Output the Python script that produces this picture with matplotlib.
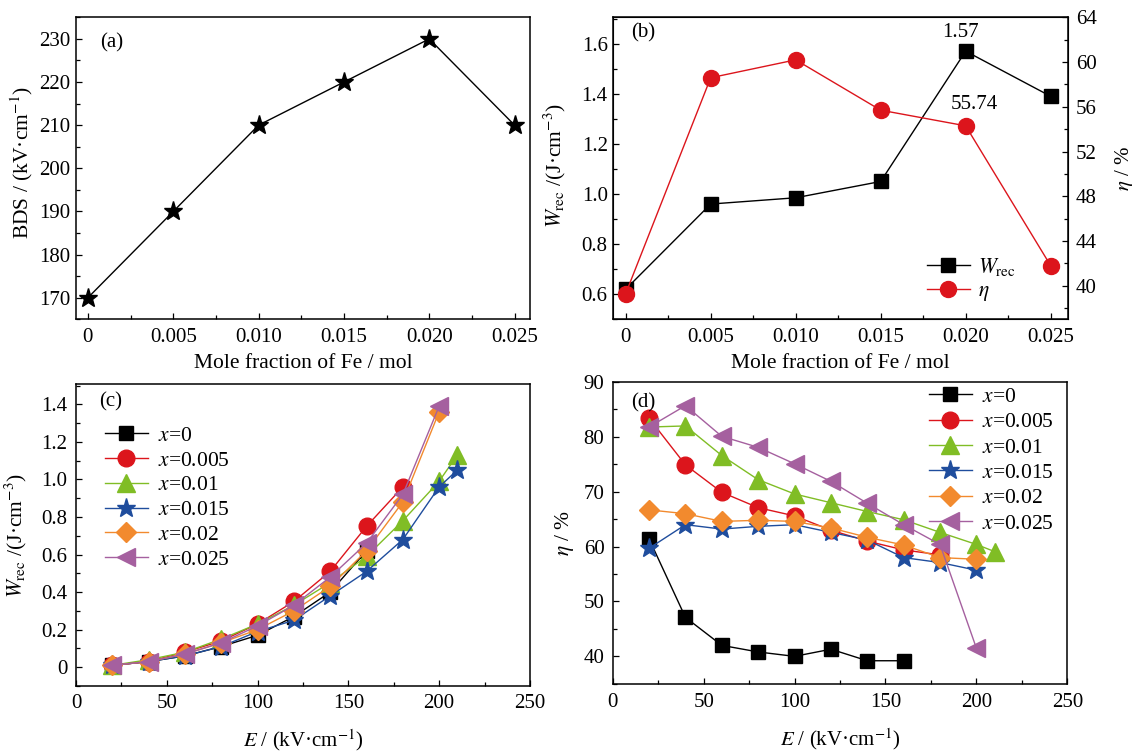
import matplotlib
matplotlib.use("Agg")
import matplotlib.pyplot as plt
from matplotlib.ticker import MultipleLocator, FixedLocator, FixedFormatter, FuncFormatter, FormatStrFormatter

plt.rcParams['font.family'] = ['Liberation Serif', 'DejaVu Serif']
plt.rcParams['mathtext.fontset'] = 'stix'
plt.rcParams['font.size'] = 15

# ---------------- data ----------------
fe = [0, 0.005, 0.010, 0.015, 0.020, 0.025]
fe_labels = ['0', '0.005', '0.010', '0.015', '0.020', '0.025']
bds = [170, 190, 210, 220, 230, 210]
wrec_b = [0.62, 0.96, 0.985, 1.05, 1.57, 1.39]
eta_b = [39.3, 58.6, 60.2, 55.7, 54.3, 41.8]

series_names = ['$x$=0', '$x$=0.005', '$x$=0.01', '$x$=0.015', '$x$=0.02', '$x$=0.025']
E_x0 = [20, 40, 60, 80, 100, 120, 140, 160]
E_x005 = [20, 40, 60, 80, 100, 120, 140, 160, 180]
E_x01 = [20, 40, 60, 80, 100, 120, 140, 160, 180, 200, 210]
E_x015 = [20, 40, 60, 80, 100, 120, 140, 160, 180, 200, 210]
E_x02 = [20, 40, 60, 80, 100, 120, 140, 160, 180, 200]
E_x025 = [20, 40, 60, 80, 100, 120, 140, 160, 180, 200]

W_x0 = [0.01, 0.03, 0.06, 0.11, 0.17, 0.27, 0.40, 0.62]
W_x005 = [0.01, 0.03, 0.08, 0.14, 0.23, 0.35, 0.51, 0.75, 0.96]
W_x01 = [0.01, 0.04, 0.08, 0.15, 0.23, 0.33, 0.45, 0.59, 0.78, 0.99, 1.13]
W_x015 = [0.01, 0.03, 0.06, 0.11, 0.19, 0.25, 0.38, 0.51, 0.68, 0.96, 1.05]
W_x02 = [0.01, 0.03, 0.07, 0.13, 0.20, 0.30, 0.43, 0.62, 0.88, 1.36]
W_x025 = [0.01, 0.03, 0.07, 0.13, 0.22, 0.33, 0.48, 0.66, 0.92, 1.39]

E_x015_eta = [20, 40, 60, 80, 100, 120, 140, 160, 180, 200]
N_x0 = [61.4, 47.1, 42.0, 40.8, 40.0, 41.3, 39.2, 39.2]
N_x005 = [83.4, 74.9, 69.9, 67.1, 65.6, 63.0, 61.0, 59.4, 58.5]
N_x01 = [81.8, 82.0, 76.6, 72.2, 69.6, 68.0, 66.4, 64.9, 62.6, 60.4, 59.1]
N_x015 = [59.7, 64.0, 63.2, 63.7, 64.0, 62.6, 61.2, 58.0, 57.1, 55.7]
N_x02 = [66.7, 66.0, 64.6, 64.8, 64.6, 63.4, 61.7, 60.3, 58.0, 57.7]
N_x025 = [81.8, 85.7, 80.1, 78.1, 75.1, 71.9, 67.9, 64.0, 60.4, 41.5]

colors = ['#000000', '#dc151c', '#80bd25', '#1f4d9d', '#f28a2e', '#a5609f']
markers = ['s', 'o', '^', '*', 'D', '<']
msizes = [10, 12, 13, 14, 10, 12.5]

fig = plt.figure(figsize=(11.37, 7.54), dpi=100)

def style(ax, right=False, ypad=4):
    ax.tick_params(which='both', direction='in', top=False, right=right, labelsize=15)
    ax.tick_params(axis='x', which='major', pad=6)
    ax.tick_params(axis='y', which='major', pad=ypad)
    ax.tick_params(which='major', length=4.5, width=0.9)
    ax.tick_params(which='minor', length=2.8, width=0.9)
    for s in ax.spines.values():
        s.set_linewidth(1.1)

# ---------------- (a) ----------------
ax_a = fig.add_axes([0.0668, 0.5765, 0.3993, 0.4005])
ax_a.plot(fe, bds, color='black', lw=1.0, marker='*', ms=14, mfc='black', mec='black')
ax_a.set_xlim(-0.0007, 0.0259)
ax_a.set_ylim(165, 235)
ax_a.xaxis.set_major_locator(FixedLocator(fe))
ax_a.xaxis.set_major_formatter(FixedFormatter(fe_labels))
ax_a.xaxis.set_minor_locator(MultipleLocator(0.0025))
ax_a.yaxis.set_major_locator(MultipleLocator(10))
ax_a.yaxis.set_minor_locator(MultipleLocator(5))
style(ax_a)
ax_a.set_xlabel('Mole fraction of Fe / mol', fontsize=15.5)
ax_a.set_ylabel('BDS / (kV·cm$^{-1}$)', fontsize=15.5)
ax_a.xaxis.set_label_coords(0.5, -0.115)
ax_a.yaxis.set_label_coords(-0.09, 0.52)
ax_a.text(0.053, 0.915, '(a)', transform=ax_a.transAxes, fontsize=15, va='center')

# ---------------- (b) ----------------
ax_b = fig.add_axes([0.5394, 0.5765, 0.3996, 0.4005])
ax_b2 = ax_b.twinx()
l1, = ax_b.plot(fe, wrec_b, color='black', lw=1.0, marker='s', ms=10, label='$W_{\\rm rec}$')
l2, = ax_b2.plot(fe, eta_b, color='#dc151c', lw=1.0, marker='o', ms=11.5,
                 mfc='#dc151c', mec='#dc151c', label='$\\eta$')
ax_b.set_xlim(-0.00073, 0.026)
ax_b.set_ylim(0.5, 1.705)
ax_b2.set_ylim(37, 64)
ax_b.xaxis.set_major_locator(FixedLocator(fe))
ax_b.xaxis.set_major_formatter(FixedFormatter(fe_labels))
ax_b.xaxis.set_minor_locator(MultipleLocator(0.0025))
ax_b.yaxis.set_major_locator(MultipleLocator(0.2))
ax_b.yaxis.set_minor_locator(MultipleLocator(0.1))
ax_b.yaxis.set_major_formatter(FormatStrFormatter('%.1f'))
ax_b2.yaxis.set_major_locator(MultipleLocator(4))
ax_b2.yaxis.set_minor_locator(MultipleLocator(2))
style(ax_b)
ax_b2.tick_params(which='both', direction='in', labelsize=15, pad=6)
ax_b2.tick_params(which='major', length=4.5, width=0.9)
ax_b2.tick_params(which='minor', length=2.8, width=0.9)
ax_b.set_xlabel('Mole fraction of Fe / mol', fontsize=15.5)
ax_b.set_ylabel('$W_{\\rm rec}$ /(J·cm$^{-3}$)', fontsize=15.5)
ax_b2.set_ylabel('$\\eta$ / %', fontsize=15)
ax_b.xaxis.set_label_coords(0.5, -0.115)
ax_b.yaxis.set_label_coords(-0.10, 0.51)
ax_b2.yaxis.set_label_coords(1.10, 0.5)
ax_b.text(0.039, 0.947, '(b)', transform=ax_b.transAxes, fontsize=15, va='center')
ax_b.text(fe[4] - 0.0003, 1.605, '1.57', ha='center', va='bottom', fontsize=15)
ax_b2.text(fe[4] + 0.0005, 55.35, '55.74', ha='center', va='bottom', fontsize=15)
ax_b.legend(handles=[l1, l2], loc='upper left', bbox_to_anchor=(0.69, 0.21),
            frameon=False, fontsize=15.5, handlelength=2.0, borderpad=0.0,
            labelspacing=0.15, handletextpad=0.4, borderaxespad=0)

# ---------------- (c) ----------------
ax_c = fig.add_axes([0.0668, 0.0902, 0.3993, 0.4005])
Ec = [E_x0, E_x005, E_x01, E_x015, E_x02, E_x025]
Wc = [W_x0, W_x005, W_x01, W_x015, W_x02, W_x025]
for i in range(6):
    ax_c.plot(Ec[i], Wc[i], color=colors[i], lw=1.0, marker=markers[i], ms=msizes[i],
              mfc=colors[i], mec=colors[i], label=series_names[i])
ax_c.set_xlim(0, 250)
ax_c.set_ylim(-0.1, 1.508)
ax_c.xaxis.set_major_locator(MultipleLocator(50))
ax_c.xaxis.set_minor_locator(MultipleLocator(25))
ax_c.yaxis.set_major_locator(MultipleLocator(0.2))
ax_c.yaxis.set_minor_locator(MultipleLocator(0.1))
ax_c.yaxis.set_major_formatter(FuncFormatter(
    lambda v, p: '0' if abs(v) < 1e-9 else f'{v:.1f}'))
style(ax_c, ypad=6)
ax_c.set_xlabel('$E$ / (kV·cm$^{-1}$)', fontsize=15)
ax_c.set_ylabel('$W_{\\rm rec}$ /(J·cm$^{-3}$)', fontsize=15.5)
ax_c.xaxis.set_label_coords(0.5, -0.138)
ax_c.yaxis.set_label_coords(-0.1035, 0.5)
ax_c.text(0.051, 0.941, '(c)', transform=ax_c.transAxes, fontsize=15, va='center')
ax_c.legend(loc='upper left', bbox_to_anchor=(0.063, 0.862), frameon=False, fontsize=15.5,
            handlelength=2.0, borderpad=0.0, labelspacing=0.22, handletextpad=0.5,
            borderaxespad=0)

# ---------------- (d) ----------------
ax_d = fig.add_axes([0.5389, 0.0924, 0.3998, 0.4009])
Ed = [E_x0, E_x005, E_x01, E_x015_eta, E_x02, E_x025]
Nd = [N_x0, N_x005, N_x01, N_x015, N_x02, N_x025]
for i in range(6):
    ax_d.plot(Ed[i], Nd[i], color=colors[i], lw=1.0, marker=markers[i], ms=msizes[i],
              mfc=colors[i], mec=colors[i], label=series_names[i])
ax_d.set_xlim(0, 250)
ax_d.set_ylim(34.9, 90)
ax_d.xaxis.set_major_locator(MultipleLocator(50))
ax_d.xaxis.set_minor_locator(MultipleLocator(25))
ax_d.yaxis.set_major_locator(MultipleLocator(10))
ax_d.yaxis.set_minor_locator(MultipleLocator(5))
style(ax_d, ypad=6)
ax_d.set_xlabel('$E$ / (kV·cm$^{-1}$)', fontsize=15)
ax_d.set_ylabel('$\\eta$ / %', fontsize=15.5)
ax_d.xaxis.set_label_coords(0.5, -0.138)
ax_d.yaxis.set_label_coords(-0.08, 0.5)
ax_d.text(0.040, 0.93, '(d)', transform=ax_d.transAxes, fontsize=15, va='center')
ax_d.legend(loc='upper left', bbox_to_anchor=(0.695, 0.985), frameon=False, fontsize=15.5,
            handlelength=2.0, borderpad=0.0, labelspacing=0.25, handletextpad=0.5,
            borderaxespad=0)

fig.savefig('out.png', dpi=100)
